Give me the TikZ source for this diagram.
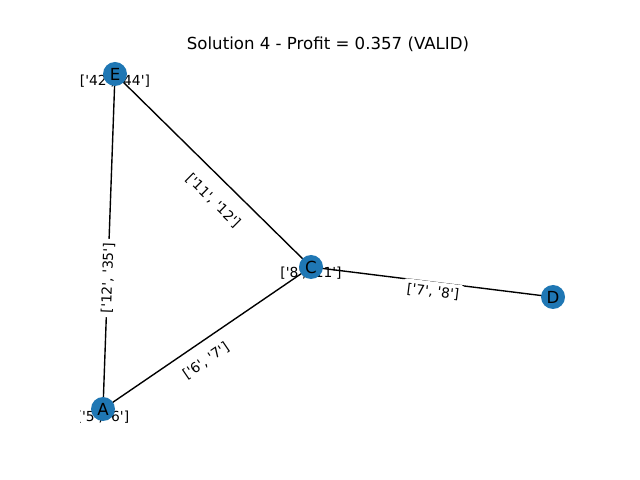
\documentclass[tikz,border=0pt]{standalone}
\usepackage{fontspec}
\newfontfamily\dv{DejaVu Sans}
\definecolor{nodeblue}{HTML}{1F77B4}
\begin{document}
\begin{tikzpicture}[x=0.72bp,y=-0.72bp,
  vertex/.style={circle,fill=nodeblue,minimum size=24*0.72bp,inner sep=0pt},
  vlabel/.style={font=\dv\fontsize{12}{14}\selectfont,inner sep=0pt},
  twlabel/.style={font=\dv\fontsize{10}{12}\selectfont,inner sep=0pt},
  elabel/.style={font=\dv\fontsize{10}{12}\selectfont,fill=white,rounded corners=2pt,inner sep=3pt},
  edge/.style={draw=black,line width=1bp}]
\useasboundingbox (0,0) rectangle (640,480);
% node positions
\coordinate (pE) at (115,74);
\coordinate (pC) at (311,267);
\coordinate (pA) at (103,409);
\coordinate (pD) at (553,297);
% title
\node[font=\dv\fontsize{12}{14}\selectfont,anchor=base,inner sep=0pt] (title) at (328,49.3) {Solution 4 - Profit = 0.357 (VALID)};
% edges
\draw[edge] (pE) -- (pC);
\draw[edge] (pE) -- (pA);
\draw[edge] (pA) -- (pC);
\draw[edge] (pC) -- (pD);
% edge labels
\node[elabel,rotate=-44.6] (lEC) at (213,201) {['11', '12']};
\node[elabel,rotate=87.9] (lEA) at (108,278) {['12', '35']};
\node[elabel,rotate=34.3] (lAC) at (206,361) {['6', '7']};
\node[elabel,rotate=-7.1] (lCD) at (433,292) {['7', '8']};
% time window labels (clipped to axes)
\begin{scope}
\clip (80,57.6) rectangle (576,427.2);
\node[twlabel] (twE) at (115,81) {['42', '44']};
\node[twlabel] (twC) at (311,273) {['8', '11']};
\node[twlabel] (twA) at (103,417) {['5', '6']};
\end{scope}
% nodes
\node[vertex] (E) at (pE) {};
\node[vertex] (C) at (pC) {};
\node[vertex] (A) at (pA) {};
\node[vertex] (D) at (pD) {};
\node[vlabel] (tE) at (pE) {E};
\node[vlabel] (tC) at (pC) {C};
\node[vlabel] (tA) at (pA) {A};
\node[vlabel] (tD) at (pD) {D};
\end{tikzpicture}
\end{document}
